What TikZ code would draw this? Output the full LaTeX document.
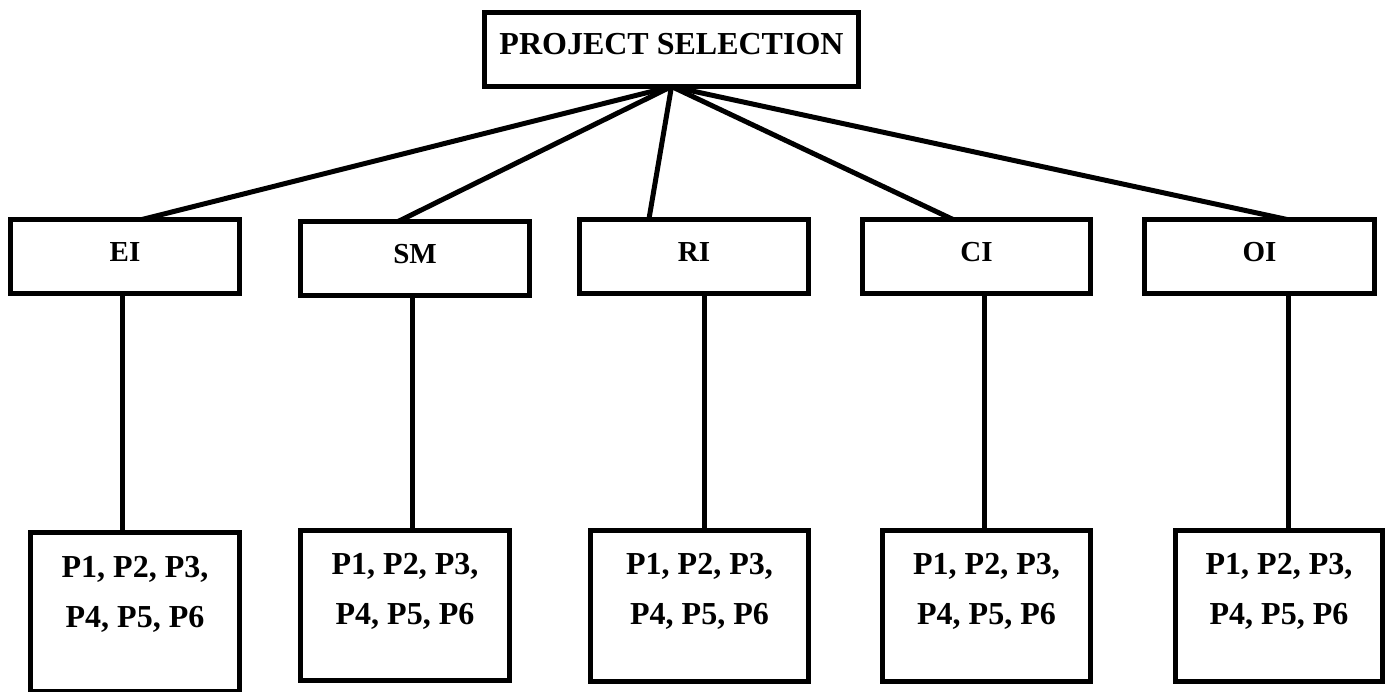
\documentclass[tikz,border=0pt]{standalone}
\usepackage{fontspec}
\setmainfont{Liberation Serif}
\usetikzlibrary{calc}
\begin{document}
\begin{tikzpicture}[x=1pt,y=-1pt,
  box/.style={draw, line width=5pt, rectangle, inner sep=0pt, outer sep=0pt},
  conn/.style={line width=5pt},
  toptext/.style={font=\fontsize{32}{38}\selectfont\bfseries},
  midtext/.style={font=\fontsize{29}{34}\selectfont\bfseries},
  ptext/.style={font=\fontsize{32}{50}\selectfont\bfseries, align=center, inner sep=0pt}]
\useasboundingbox (0,0) rectangle (1390,692);
% top box
\node[box, minimum width=374pt, minimum height=74pt, text height=22pt, text depth=11pt, toptext] (top) at (671.5,49.5) {PROJECT SELECTION};
% middle boxes
\node[box, minimum width=229pt, minimum height=74pt, text height=19pt, text depth=9pt, midtext] (ei) at (125,256.5) {EI};
\node[box, minimum width=229pt, minimum height=74pt, text height=19pt, text depth=9pt, midtext] (sm) at (415,258.5) {SM};
\node[box, minimum width=229pt, minimum height=74pt, text height=19pt, text depth=9pt, midtext] (ri) at (694,256.5) {RI};
\node[box, minimum width=228pt, minimum height=74pt, text height=19pt, text depth=9pt, midtext] (ci) at (976.5,256.5) {CI};
\node[box, minimum width=230pt, minimum height=74pt, text height=19pt, text depth=9pt, midtext] (oi) at (1259.5,256.5) {OI};
% bottom boxes
\node[box, minimum width=209pt, minimum height=159pt] (pei) at (135,612) {};
\node[box, minimum width=209pt, minimum height=150pt] (psm) at (405,605.5) {};
\node[box, minimum width=218pt, minimum height=151pt] (pri) at (699.5,606) {};
\node[box, minimum width=208pt, minimum height=151pt] (pci) at (986.5,606) {};
\node[box, minimum width=207pt, minimum height=151pt] (poi) at (1279,606) {};
\node[ptext] (tei) at (135,594) {P1, P2, P3,\\P4, P5, P6};
\node[ptext] (tsm) at (405,591) {P1, P2, P3,\\P4, P5, P6};
\node[ptext] (tri) at (699.5,591) {P1, P2, P3,\\P4, P5, P6};
\node[ptext] (tci) at (986.5,591) {P1, P2, P3,\\P4, P5, P6};
\node[ptext] (toi) at (1279,591) {P1, P2, P3,\\P4, P5, P6};
% connectors from top
\draw[conn] (top.south) -- ($(ei.north west)!0.574!(ei.north east)$);
\draw[conn] (top.south) -- ($(sm.north west)!0.426!(sm.north east)$);
\draw[conn] (top.south) -- ($(ri.north west)!0.303!(ri.north east)$);
\draw[conn] (top.south) -- ($(ci.north west)!0.397!(ci.north east)$);
\draw[conn] (top.south) -- ($(oi.north west)!0.62!(oi.north east)$);
% vertical connectors
\coordinate (vei) at ($(ei.south west)!0.491!(ei.south east)$);
\coordinate (vsm) at ($(sm.south west)!0.491!(sm.south east)$);
\coordinate (vri) at ($(ri.south west)!0.546!(ri.south east)$);
\coordinate (vci) at ($(ci.south west)!0.537!(ci.south east)$);
\coordinate (voi) at ($(oi.south west)!0.624!(oi.south east)$);
\draw[conn] (vei) -- (vei |- pei.north);
\draw[conn] (vsm) -- (vsm |- psm.north);
\draw[conn] (vri) -- (vri |- pri.north);
\draw[conn] (vci) -- (vci |- pci.north);
\draw[conn] (voi) -- (voi |- poi.north);
\end{tikzpicture}
\end{document}
